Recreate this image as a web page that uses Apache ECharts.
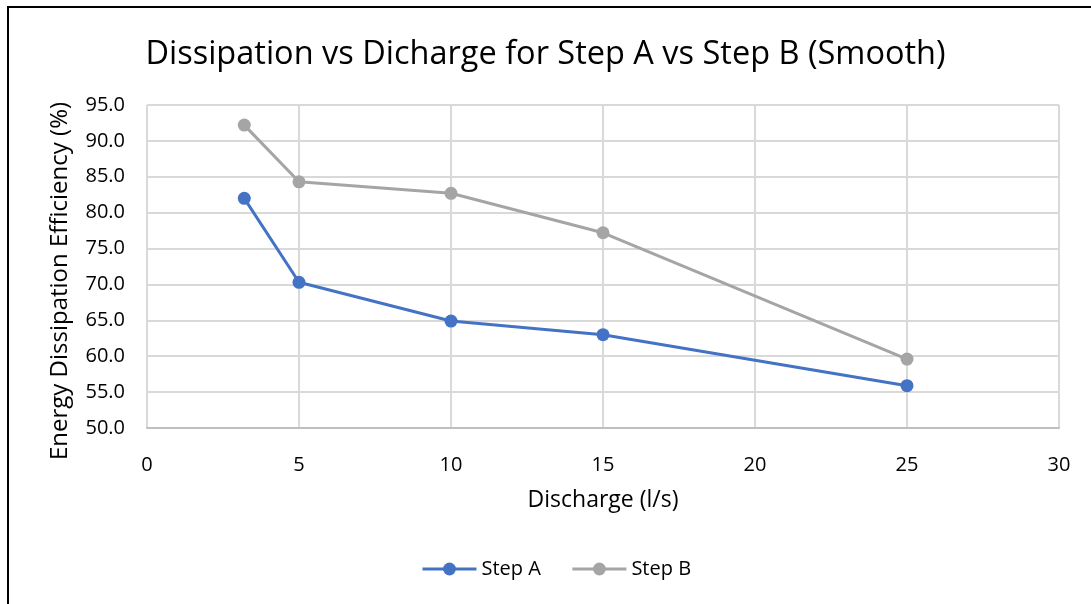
<!DOCTYPE html>
<html><head><meta charset="utf-8">
<script src="https://cdn.jsdelivr.net/npm/echarts@6/dist/echarts.min.js"></script>
<style>
html,body{margin:0;padding:0;background:#fff;}
#frame{position:absolute;left:7px;top:6px;width:1090px;height:610px;border:2px solid #000;box-sizing:border-box;}
#c{position:absolute;left:0;top:0;width:1091px;height:604px;}
</style></head>
<body><div id="frame"></div><div id="c"></div>
<script>
const discharge = [3.2, 5, 10, 15, 25];
const stepA = [82.0, 70.3, 64.9, 63.0, 55.9];
const stepB = [92.2, 84.3, 82.7, 77.2, 59.6];
const seriesNames = ['Step A', 'Step B'];
const colors = ['#4472C4', '#A5A5A5'];
const font = '"Open Sans", sans-serif';

const chart = echarts.init(document.getElementById('c'));
chart.setOption({
  animation: false,
  textStyle: {fontFamily: font},
  title: {text: 'Dissipation vs Dicharge for Step A vs Step B (Smooth)', left: 'center', top: 33,
    textStyle: {fontFamily: font, fontSize: 32.5, fontWeight: 'normal', color: '#000'}},
  grid: {left: 147, top: 105, width: 912, height: 323},
  legend: {top: 554, left: 416, itemWidth: 54, itemHeight: 16, itemGap: 30,
    lineStyle: {width: 3},
    textStyle: {fontFamily: font, fontSize: 20, color: '#000'},
    data: seriesNames},
  xAxis: {type: 'value', min: 0, max: 30, interval: 5,
    name: 'Discharge (l/s)', nameLocation: 'middle', nameGap: 61,
    nameTextStyle: {fontFamily: font, fontSize: 23, color: '#000'},
    axisLine: {show: true, lineStyle: {color: '#BFBFBF', width: 2}},
    axisTick: {show: false},
    axisLabel: {fontSize: 20, color: '#000', margin: 27, fontFamily: font},
    splitLine: {show: true, lineStyle: {color: '#D9D9D9', width: 2}}},
  yAxis: {type: 'value', min: 50, max: 95, interval: 5,
    axisLine: {show: false}, axisTick: {show: false},
    axisLabel: {fontSize: 20, color: '#000', margin: 22, fontFamily: font, formatter: v => v.toFixed(1)},
    splitLine: {show: true, lineStyle: {color: '#D9D9D9', width: 2}}},
  graphic: [{type: 'text', x: 48, y: 281, rotation: Math.PI/2,
    style: {text: 'Energy Dissipation Efficiency (%)', fontFamily: font, fontSize: 24, fill: '#000',
      align: 'center', verticalAlign: 'top'}}],
  series: [
    {name: seriesNames[0], type: 'line', data: discharge.map((x, i) => [x, stepA[i]]),
     symbol: 'circle', symbolSize: 13, color: colors[0], lineStyle: {width: 3, color: colors[0]}, itemStyle: {color: colors[0]}},
    {name: seriesNames[1], type: 'line', data: discharge.map((x, i) => [x, stepB[i]]),
     symbol: 'circle', symbolSize: 13, color: colors[1], lineStyle: {width: 3, color: colors[1]}, itemStyle: {color: colors[1]}}
  ]
});
</script></body></html>
